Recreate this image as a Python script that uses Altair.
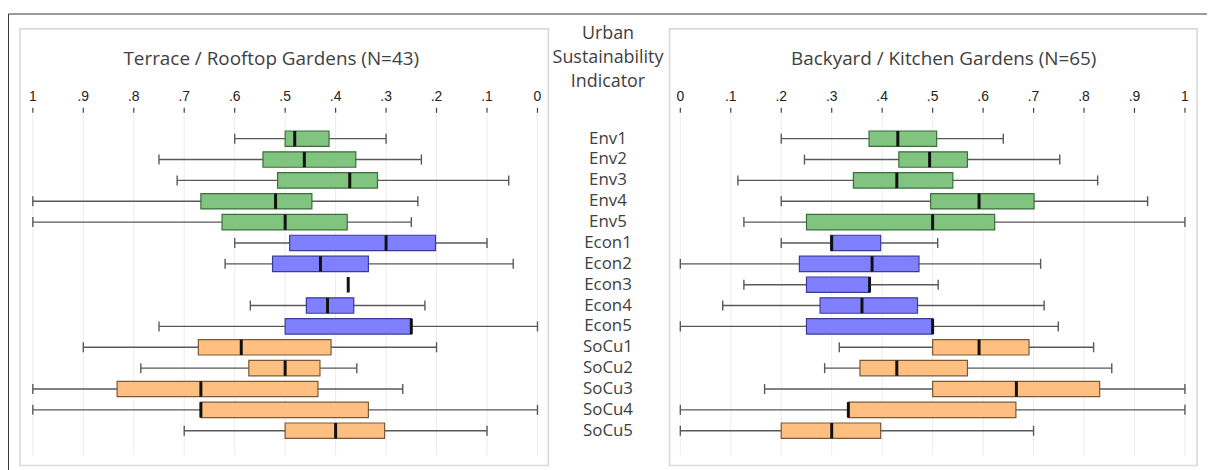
import altair as alt
import pandas as pd

# ---------------- data ----------------
indicators = ["Env1", "Env2", "Env3", "Env4", "Env5",
              "Econ1", "Econ2", "Econ3", "Econ4", "Econ5",
              "SoCu1", "SoCu2", "SoCu3", "SoCu4", "SoCu5"]
groups = ["Env"] * 5 + ["Econ"] * 5 + ["SoCu"] * 5

# Terrace / Rooftop Gardens (N=43)
terrace_min = [0.30, 0.23, 0.057, 0.237, 0.25, 0.10, 0.048, 0.375, 0.223, 0.00, 0.20, 0.358, 0.267, 0.00, 0.10]
terrace_q1 = [0.413, 0.36, 0.317, 0.447, 0.377, 0.202, 0.335, 0.375, 0.364, 0.25, 0.409, 0.431, 0.435, 0.335, 0.303]
terrace_med = [0.481, 0.462, 0.372, 0.519, 0.50, 0.30, 0.43, 0.375, 0.416, 0.25, 0.587, 0.50, 0.667, 0.667, 0.40]
terrace_q3 = [0.50, 0.544, 0.515, 0.667, 0.625, 0.491, 0.525, 0.375, 0.458, 0.50, 0.672, 0.572, 0.833, 0.667, 0.50]
terrace_max = [0.60, 0.75, 0.714, 1.00, 1.00, 0.60, 0.619, 0.375, 0.569, 0.75, 0.90, 0.786, 1.00, 1.00, 0.70]

# Backyard / Kitchen Gardens (N=65)
backyard_min = [0.20, 0.246, 0.114, 0.20, 0.126, 0.20, 0.00, 0.126, 0.084, 0.00, 0.315, 0.286, 0.167, 0.00, 0.00]
backyard_q1 = [0.374, 0.433, 0.343, 0.496, 0.25, 0.298, 0.236, 0.25, 0.277, 0.25, 0.50, 0.356, 0.50, 0.333, 0.20]
backyard_med = [0.431, 0.494, 0.429, 0.592, 0.50, 0.30, 0.38, 0.375, 0.36, 0.50, 0.592, 0.429, 0.666, 0.333, 0.30]
backyard_q3 = [0.508, 0.569, 0.54, 0.701, 0.623, 0.397, 0.473, 0.375, 0.47, 0.50, 0.691, 0.569, 0.831, 0.665, 0.397]
backyard_max = [0.64, 0.752, 0.827, 0.926, 1.00, 0.51, 0.714, 0.511, 0.721, 0.749, 0.819, 0.855, 1.00, 1.00, 0.70]

tick_values = [0, 0.1, 0.2, 0.3, 0.4, 0.5, 0.6, 0.7, 0.8, 0.9, 1]
tick_labels = ["0", ".1", ".2", ".3", ".4", ".5", ".6", ".7", ".8", ".9", "1"]

header_lines = ["Urban", "Sustainability", "Indicator"]
left_title = "Terrace / Rooftop Gardens (N=43)"
right_title = "Backyard / Kitchen Gardens (N=65)"

group_names = ["Env", "Econ", "SoCu"]
group_fill = ["#80c47f", "#8080ff", "#ffbf80"]
group_stroke = ["#3b6e3b", "#3a3a9a", "#7a5a35"]


def panel_frame(mn, q1, med, q3, mx):
    return pd.DataFrame({
        "indicator": indicators, "idx": list(range(len(indicators))), "group": groups,
        "mn": mn, "q1": q1, "med": med, "q3": q3, "mx": mx,
    })


terrace_df = panel_frame(terrace_min, terrace_q1, terrace_med, terrace_q3, terrace_max)
backyard_df = panel_frame(backyard_min, backyard_q1, backyard_med, backyard_q3, backyard_max)
ticks_df = pd.DataFrame({"v": tick_values, "lab": tick_labels})

# ---------------- scales / layout ----------------
W, H = 1207, 462
FONT = "Open Sans"
left_x = alt.Scale(domain=[-1.326772, 1.049213], reverse=True, nice=False, zero=False)
right_x = alt.Scale(domain=[-1.332283, 1.043701], nice=False, zero=False)
y_scale = alt.Scale(domain=[-6.190476, 15.809524], reverse=True, nice=False, zero=False)
fill_scale = alt.Scale(domain=group_names, range=group_fill)
stroke_scale = alt.Scale(domain=group_names, range=group_stroke)

BOX_H = 0.369
CAP_H = 0.24


def panel_layers(df, xs, title, title_x, frame_x0, frame_x1):
    base = alt.Chart(df).transform_calculate(
        lo=f"datum.idx - {BOX_H}", hi=f"datum.idx + {BOX_H}",
        clo=f"datum.idx - {CAP_H}", chi=f"datum.idx + {CAP_H}",
    )
    Y = alt.Y("idx:Q", scale=y_scale, axis=None)
    frame = alt.Chart(alt.Data(values=[{"k": 0}])).mark_rect(
        fill="white", fillOpacity=0, stroke="#d9d9d9", strokeWidth=1.6
    ).encode(x=alt.value(frame_x0), x2=alt.value(frame_x1), y=alt.value(19.5), y2=alt.value(459))
    grid = alt.Chart(ticks_df).mark_rule(color="#ececec", strokeWidth=1).encode(
        x=alt.X("v:Q", scale=xs, axis=None), y=alt.value(105), y2=alt.value(449))
    tmarks = alt.Chart(ticks_df).mark_rule(color="#444444", strokeWidth=1.2).encode(
        x=alt.X("v:Q", scale=xs, axis=None), y=alt.value(99), y2=alt.value(104))
    tlabels = alt.Chart(ticks_df).mark_text(
        font="Liberation Sans", fontSize=14, color="#222222", baseline="middle"
    ).encode(x=alt.X("v:Q", scale=xs, axis=None), y=alt.value(88), text="lab:N")
    ttl = alt.Chart(alt.Data(values=[{"t": title}])).mark_text(
        font=FONT, fontSize=19, color="#404040", baseline="middle"
    ).encode(x=alt.value(title_x), y=alt.value(50), text="t:N")
    whisk = base.mark_rule(color="#595959", strokeWidth=1.4).encode(
        x=alt.X("mn:Q", scale=xs, axis=None), x2="mx:Q", y=Y)
    cap_lo = base.mark_rule(color="#595959", strokeWidth=1.4).encode(
        x=alt.X("mn:Q", scale=xs, axis=None),
        y=alt.Y("clo:Q", scale=y_scale, axis=None), y2="chi:Q")
    cap_hi = base.mark_rule(color="#595959", strokeWidth=1.4).encode(
        x=alt.X("mx:Q", scale=xs, axis=None),
        y=alt.Y("clo:Q", scale=y_scale, axis=None), y2="chi:Q")
    box = base.mark_rect(strokeWidth=1.2).encode(
        x=alt.X("q1:Q", scale=xs, axis=None), x2="q3:Q",
        y=alt.Y("lo:Q", scale=y_scale, axis=None), y2="hi:Q",
        fill=alt.Fill("group:N", scale=fill_scale, legend=None),
        stroke=alt.Stroke("group:N", scale=stroke_scale, legend=None),
    )
    med = base.mark_rule(color="#111111", strokeWidth=3).encode(
        x=alt.X("med:Q", scale=xs, axis=None),
        y=alt.Y("lo:Q", scale=y_scale, axis=None), y2="hi:Q")
    return [frame, grid, tmarks, tlabels, ttl, whisk, cap_lo, cap_hi, box, med]


left = panel_layers(terrace_df, left_x, left_title, 265, 12, 544)
right = panel_layers(backyard_df, right_x, right_title, 942, 666, 1197)

center = alt.Chart(terrace_df).mark_text(
    font=FONT, fontSize=17, color="#404040", baseline="middle"
).encode(x=alt.value(604), y=alt.Y("idx:Q", scale=y_scale, axis=None), text="indicator:N")

header = alt.Chart(alt.Data(values=[{"k": 0}])).mark_text(
    font=FONT, fontSize=18, color="#404040", baseline="middle", lineHeight=24,
    text=header_lines,
).encode(x=alt.value(604), y=alt.value(24.5))

outer = alt.Chart(alt.Data(values=[{"k": 0}])).mark_rect(
    fill="white", fillOpacity=0, stroke="#333333", strokeWidth=1
).encode(x=alt.value(0.5), x2=alt.value(1400), y=alt.value(4.5), y2=alt.value(700))

chart = alt.layer(outer, *left, *right, center, header).resolve_scale(
    x="independent"
).properties(
    width=W, height=H, padding=0,
    autosize=alt.AutoSizeParams(type="none"),
    background="white",
).configure_view(stroke=None)

chart.save("out.html", embed_options={"renderer": "svg", "actions": False})
